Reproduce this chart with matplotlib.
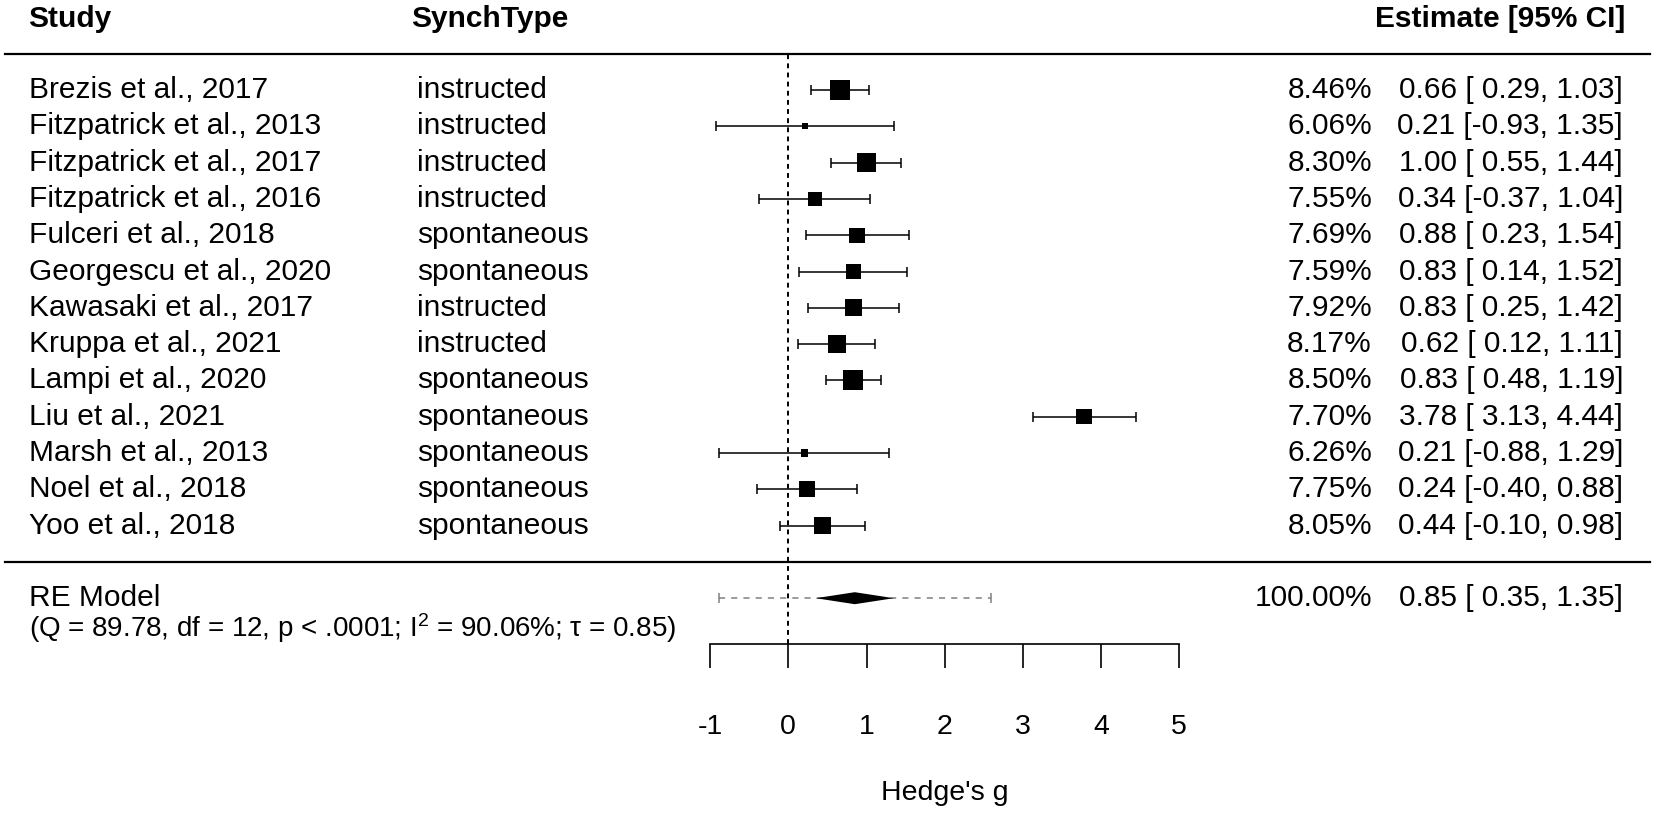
import numpy as np
import matplotlib.pyplot as plt

plt.rcParams['font.family'] = ['Liberation Sans', 'DejaVu Sans']
plt.rcParams['mathtext.fontset'] = 'custom'
plt.rcParams['mathtext.rm'] = 'Liberation Sans'
plt.rcParams['mathtext.it'] = 'Liberation Sans:italic'

studies = ['Brezis et al., 2017', 'Fitzpatrick et al., 2013', 'Fitzpatrick et al., 2017',
           'Fitzpatrick et al., 2016', 'Fulceri et al., 2018', 'Georgescu et al., 2020',
           'Kawasaki et al., 2017', 'Kruppa et al., 2021', 'Lampi et al., 2020',
           'Liu et al., 2021', 'Marsh et al., 2013', 'Noel et al., 2018', 'Yoo et al., 2018']
synch = ['instructed', 'instructed', 'instructed', 'instructed', 'spontaneous', 'spontaneous',
         'instructed', 'instructed', 'spontaneous', 'spontaneous', 'spontaneous',
         'spontaneous', 'spontaneous']
weights = [8.46, 6.06, 8.30, 7.55, 7.69, 7.59, 7.92, 8.17, 8.50, 7.70, 6.26, 7.75, 8.05]
est = [0.66, 0.21, 1.00, 0.34, 0.88, 0.83, 0.83, 0.62, 0.83, 3.78, 0.21, 0.24, 0.44]
ci_lo = [0.29, -0.93, 0.55, -0.37, 0.23, 0.14, 0.25, 0.12, 0.48, 3.13, -0.88, -0.40, -0.10]
ci_hi = [1.03, 1.35, 1.44, 1.04, 1.54, 1.52, 1.42, 1.11, 1.19, 4.44, 1.29, 0.88, 0.98]

re_est, re_lo, re_hi = 0.85, 0.35, 1.35
pi_lo, pi_hi = -0.89, 2.59
re_stats = r'(Q = 89.78, df = 12, p < .0001; I$^2$ = 90.06%; τ = 0.85)'
xticks = [-1, 0, 1, 2, 3, 4, 5]

W, H = 1654, 814
FS = 21.5     # row text
FS_AX = 20.5  # axis text
k = len(studies)
rows = np.arange(k, 0, -1)

# pixel layout (x: g -> px, y: row -> px)
x0_px, unit_px = 788.3, 78.2
row1_px, row_px = 525.6, 36.3

fig = plt.figure(figsize=(W / 100, H / 100), dpi=100)
ax = fig.add_axes([0, 0, 1, 1])
ax.set_xlim(-x0_px / unit_px, (W - x0_px) / unit_px)
ax.set_ylim(1 - (H - row1_px) / row_px, 1 + row1_px / row_px)

axis_row = 1 - (644 - row1_px) / row_px
stats_row = 1 - (628 - row1_px) / row_px
label_row = 1 - (793 - row1_px) / row_px
head_row = k + 1.95

tr = ax.get_yaxis_transform()

# lines
ax.axhline(k + 1, xmin=5 / W, xmax=1650 / W, color='black', lw=1.6)
ax.axhline(0, xmin=5 / W, xmax=1650 / W, color='black', lw=1.6)
ax.plot([0, 0], [axis_row, k + 1], color='black', lw=1.4, ls=(0, (2.5, 2.2)))

# study CIs and squares
lo_err = np.array(est) - np.array(ci_lo)
hi_err = np.array(ci_hi) - np.array(est)
ax.errorbar(est, rows, xerr=[lo_err, hi_err], fmt='none', ecolor='black',
            elinewidth=1.1, capsize=3.3, capthick=1.1, zorder=2)
w = np.array(weights)
side_px = 6 + (w - w.min()) / (w.max() - w.min()) * 14
ax.scatter(est, rows, s=(side_px * 0.72) ** 2, marker='s', color='black',
           linewidths=0, zorder=3)

# summary: prediction interval + diamond
ax.plot([pi_lo, pi_hi], [-1, -1], color='#808080', lw=1.1, ls=(0, (4, 4)), zorder=1)
ax.plot([pi_lo, pi_hi], [-1, -1], ls='none', marker='|', ms=7, mew=1.1,
        color='#808080')
h = 6 / row_px
ax.fill([re_lo, re_est, re_hi, re_est], [-1, -1 + h, -1, -1 - h], color='black',
        lw=0, zorder=3)

# text columns
ax.text(28 / W, head_row, 'Study', transform=tr, fontsize=FS, fontweight='bold', va='center')
ax.text(411 / W, head_row, 'SynchType', transform=tr, fontsize=FS, fontweight='bold',
        va='center')
ax.text(1625 / W, head_row, 'Estimate [95% CI]', transform=tr, fontsize=FS,
        fontweight='bold', va='center', ha='right')

for r, s, t, wt, e, lo, hi in zip(rows, studies, synch, weights, est, ci_lo, ci_hi):
    ax.text(29 / W, r, s, transform=tr, fontsize=FS, va='center')
    ax.text(417 / W, r, t, transform=tr, fontsize=FS, va='center')
    ax.text(1372 / W, r, f'{wt:.2f}%', transform=tr, fontsize=FS, va='center', ha='right')
    ax.text(1623 / W, r, f'{e:.2f} [{lo:5.2f}, {hi:.2f}]', transform=tr, fontsize=FS,
            va='center', ha='right')

ax.text(29 / W, -1, 'RE Model', transform=tr, fontsize=FS, va='center')
ax.text(29 / W, stats_row, re_stats, transform=tr, fontsize=20, va='center')
ax.text(1372 / W, -1, '100.00%', transform=tr, fontsize=FS, va='center', ha='right')
ax.text(1623 / W, -1, f'{re_est:.2f} [{re_lo:5.2f}, {re_hi:.2f}]', transform=tr,
        fontsize=FS, va='center', ha='right')

# x axis
for s in ['top', 'left', 'right']:
    ax.spines[s].set_visible(False)
ax.spines['bottom'].set_position(('data', axis_row))
ax.spines['bottom'].set_bounds(-1, 5)
ax.spines['bottom'].set_linewidth(1.2)
ax.set_yticks([])
ax.set_xticks(xticks)
ax.set_xticklabels([str(t) for t in xticks])
ax.tick_params(axis='x', direction='out', length=17.3, width=1.2, pad=33, labelsize=FS_AX)
ax.set_xlabel("Hedge's g", fontsize=FS_AX)
ax.xaxis.set_label_coords(2, label_row, transform=ax.transData)
ax.xaxis.label.set_verticalalignment('center')

fig.savefig('out.png', dpi=100)
